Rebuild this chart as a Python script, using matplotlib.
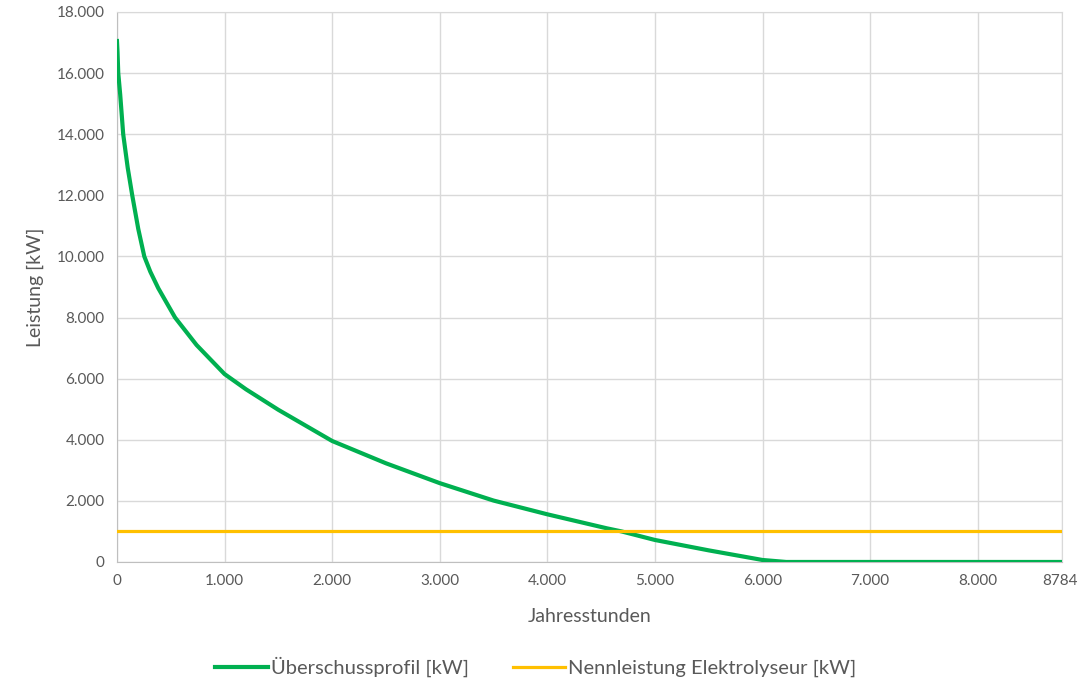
import matplotlib.pyplot as plt
import matplotlib.ticker as mticker

# Load duration curve (hours sorted by surplus power)
stunden = [0, 5, 12, 30, 58, 100, 142, 198, 254, 310, 384, 540, 740, 1000,
           1200, 1500, 2000, 2500, 3000, 3500, 4000, 4555, 4690, 5000, 5500,
           6000, 6220, 8784]
ueberschuss_kw = [17050, 16700, 16000, 15300, 14000, 12900, 12000, 10900, 10000,
                  9500, 8960, 8000, 7100, 6150, 5650, 4980, 3960, 3230, 2580,
                  2010, 1560, 1100, 1000, 720, 380, 65, 0, 0]

# Rated power of the electrolyser (constant)
nenn_stunden = [0, 8784]
nennleistung_kw = [1000, 1000]

x_ticks = [0, 1000, 2000, 3000, 4000, 5000, 6000, 7000, 8000, 8784]
x_ticklabels = ["0", "1.000", "2.000", "3.000", "4.000", "5.000", "6.000",
                "7.000", "8.000", "8784"]
y_ticks = list(range(0, 18001, 2000))

plt.rcParams['font.family'] = ['Lato', 'DejaVu Sans']

fig = plt.figure(figsize=(10.78, 6.85), dpi=100)
ax = fig.add_axes([0.1085, 0.1796, 0.8767, 0.8029])

ax.plot(stunden, ueberschuss_kw, color='#00B050', lw=3.0,
        label='Überschussprofil [kW]', zorder=3, solid_joinstyle='round')
ax.plot(nenn_stunden, nennleistung_kw, color='#FFC000', lw=2.3,
        label='Nennleistung Elektrolyseur [kW]', zorder=4)

ax.set_xlim(0, 8784)
ax.set_ylim(0, 18000)
ax.set_xticks(x_ticks)
ax.set_xticklabels(x_ticklabels)
ax.set_yticks(y_ticks)
ax.yaxis.set_major_formatter(mticker.FuncFormatter(
    lambda v, p: f"{int(v):,}".replace(",", ".")))

ax.grid(True, color='#d9d9d9', lw=1.0, zorder=0)
for s in ax.spines.values():
    s.set_color('#d9d9d9')
ax.spines['bottom'].set_color('#bfbfbf')
ax.spines['left'].set_color('#bfbfbf')
ax.tick_params(length=0, labelsize=11, labelcolor='#595959', pad=9)
# last label sits right at the figure edge, nudge it left a bit
ax.get_xticklabels()[-1].set_horizontalalignment('right')
ax.get_xticklabels()[-1].set_x(8784)

ax.set_xlabel('Jahresstunden', fontsize=14, color='#595959', labelpad=14)
ax.set_ylabel('Leistung [kW]', fontsize=14, color='#595959', labelpad=9)

fig.legend(loc='center', bbox_to_anchor=(536 / 1078, 1 - 667 / 685), ncol=2,
           frameon=False, fontsize=14.5, handlelength=2.6, handletextpad=0.15,
           columnspacing=2.2, labelcolor='#595959')

fig.canvas.draw()
lbl = ax.get_xticklabels()[-1]
lbl.set_horizontalalignment('center')
bb = lbl.get_window_extent()
if bb.x1 > fig.bbox.width - 1:
    lbl.set_horizontalalignment('right')
    lbl.set_x(8784)
    # shift so the label still ends inside the figure
    from matplotlib.transforms import ScaledTranslation
    lbl.set_transform(lbl.get_transform() + ScaledTranslation(
        (bb.width / 2 - 2) / 100, 0, fig.dpi_scale_trans))

plt.savefig("out.png", dpi=100)
